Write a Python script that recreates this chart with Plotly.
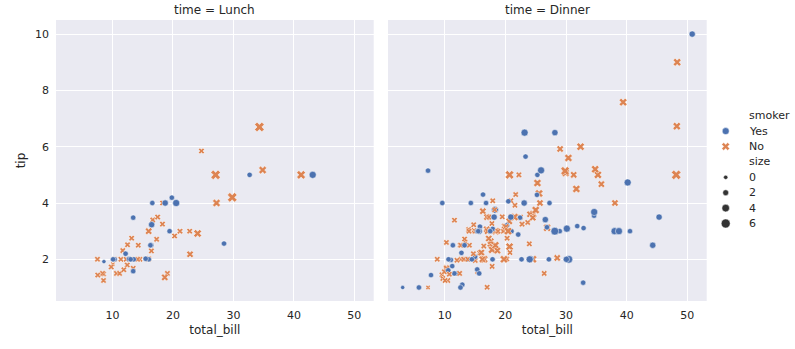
import math
import plotly.graph_objects as go

# ---------------- data (tips: total_bill, tip, smoker, size) ----------------
lunch_bill = [27.2, 22.76, 17.29, 19.44, 16.66, 10.07, 32.68, 15.98, 34.83, 13.03, 18.28, 24.71, 21.16,
              10.65, 12.43, 24.08, 11.69, 13.42, 14.26, 15.95, 12.48, 29.8, 8.52, 14.52, 11.38, 22.82,
              19.08, 20.27, 11.17, 12.26, 18.26, 8.51, 10.33, 14.15, 16.0, 13.16, 17.47, 34.3, 41.19,
              27.05, 16.43, 8.35, 18.64, 11.87, 9.78, 7.51, 19.81, 28.44, 15.48, 16.58, 7.56, 10.34,
              43.11, 13.0, 13.51, 18.71, 12.74, 13.0, 16.4, 20.53, 16.47, 12.16, 13.42, 8.58, 15.98,
              13.42, 16.27, 10.09]
lunch_tip = [4.0, 3.0, 2.71, 3.0, 3.4, 1.83, 5.0, 2.03, 5.17, 2.0, 4.0, 5.85, 3.0,
             1.5, 1.8, 2.92, 2.31, 1.68, 2.5, 2.0, 2.52, 4.2, 1.48, 2.0, 2.0, 2.18,
             1.5, 2.83, 1.5, 2.0, 3.25, 1.25, 2.0, 2.0, 2.0, 2.75, 3.5, 6.7, 5.0,
             5.0, 2.3, 1.5, 1.36, 1.63, 1.73, 2.0, 4.19, 2.56, 2.02, 4.0, 1.44, 2.0,
             5.0, 2.0, 2.0, 4.0, 2.01, 2.0, 2.5, 4.0, 3.23, 2.2, 3.48, 1.92, 3.0,
             1.58, 2.5, 2.0]
lunch_smoker = ["No", "No", "No", "Yes", "No", "No", "Yes", "No", "No", "No", "No", "No", "No",
                "No", "No", "No", "No", "No", "No", "No", "No", "No", "No", "No", "No", "No",
                "No", "No", "No", "No", "No", "No", "No", "No", "Yes", "No", "No", "No", "No",
                "No", "No", "No", "No", "No", "No", "No", "Yes", "Yes", "Yes", "Yes", "No", "Yes",
                "Yes", "Yes", "Yes", "Yes", "Yes", "Yes", "Yes", "Yes", "Yes", "Yes", "Yes", "Yes", "No",
                "Yes", "Yes", "Yes"]
lunch_size = [4, 2, 2, 2, 2, 1, 2, 2, 4, 2, 2, 2, 2,
              2, 2, 4, 2, 2, 2, 2, 2, 6, 2, 2, 2, 3,
              2, 2, 2, 2, 2, 2, 2, 2, 2, 2, 2, 6, 5,
              6, 2, 2, 3, 2, 2, 2, 2, 2, 2, 2, 2, 2,
              4, 2, 2, 3, 2, 2, 2, 4, 3, 2, 2, 1, 3,
              2, 2, 2]

dinner_bill = [16.99, 10.34, 21.01, 23.68, 24.59, 25.29, 8.77, 26.88, 15.04, 14.78, 10.27, 35.26, 15.42,
               18.43, 14.83, 21.58, 10.33, 16.29, 16.97, 20.65, 17.92, 20.29, 15.77, 39.42, 19.82, 17.81,
               13.37, 12.69, 21.7, 19.65, 9.55, 18.35, 15.06, 20.69, 17.78, 24.06, 16.31, 16.93, 18.69,
               31.27, 16.04, 17.46, 13.94, 9.68, 30.4, 18.29, 22.23, 32.4, 28.55, 18.04, 12.54, 10.29,
               34.81, 9.94, 25.56, 19.49, 38.01, 26.41, 11.24, 48.27, 20.29, 13.81, 11.02, 18.29, 17.59,
               20.08, 16.45, 3.07, 20.23, 15.01, 12.02, 17.07, 26.86, 25.28, 14.73, 10.51, 17.92,
               28.97, 22.49, 5.75, 16.32, 22.75, 40.17, 27.28, 12.03, 21.01, 12.46, 11.35, 15.38, 44.3,
               22.42, 20.92, 15.36, 20.49, 25.21, 18.24, 14.31, 14.0, 7.25, 38.07, 23.95, 25.71, 17.31,
               29.93, 14.07, 13.13, 17.26, 24.55, 19.77, 29.85, 48.17, 25.0, 13.39, 16.49, 21.5, 12.66,
               16.21, 13.81, 17.51, 24.52, 20.76, 31.71, 10.59, 10.63, 50.81, 15.81, 7.25, 31.85, 16.82,
               32.9, 17.89, 14.48, 9.6, 34.63, 34.65, 23.33, 45.35, 23.17, 40.55, 20.69, 20.9, 30.46,
               18.15, 23.1, 15.69, 26.59, 38.73, 24.27, 12.76, 30.06, 25.89, 48.33, 13.27, 28.17, 12.9,
               28.15, 11.59, 7.74, 30.14, 20.45, 13.28, 22.12, 24.01, 15.69, 11.61, 10.77, 15.53, 10.07,
               12.6, 32.83, 35.83, 29.03, 27.18, 22.67, 17.82, 18.78]
dinner_tip = [1.01, 1.66, 3.5, 3.31, 3.61, 4.71, 2.0, 3.12, 1.96, 3.23, 1.71, 5.0, 1.57,
              3.0, 3.02, 3.92, 1.67, 3.71, 3.5, 3.35, 4.08, 2.75, 2.23, 7.58, 3.18, 2.34,
              2.0, 2.0, 4.3, 3.0, 1.45, 2.5, 3.0, 2.45, 3.27, 3.6, 2.0, 3.07, 2.31,
              5.0, 2.24, 2.54, 3.06, 1.32, 5.6, 3.0, 5.0, 6.0, 2.05, 3.0, 2.5, 2.6,
              5.2, 1.56, 4.34, 3.51, 3.0, 1.5, 1.76, 6.73, 3.21, 2.0, 1.98, 3.76, 2.64,
              3.15, 2.47, 1.0, 2.01, 2.09, 1.97, 3.0, 3.14, 5.0, 2.2, 1.25, 3.08,
              3.0, 3.5, 1.0, 4.3, 3.25, 4.73, 4.0, 1.5, 3.0, 1.5, 2.5, 3.0, 2.5,
              3.48, 4.08, 1.64, 4.06, 4.29, 3.76, 4.0, 3.0, 1.0, 4.0, 2.55, 4.0, 3.5,
              5.07, 2.5, 2.0, 2.74, 2.0, 2.0, 5.14, 5.0, 3.75, 2.61, 2.0, 3.5, 2.5,
              2.0, 2.0, 3.0, 3.48, 2.24, 4.5, 1.61, 2.0, 10.0, 3.16, 5.15, 3.18, 4.0,
              3.11, 2.0, 2.0, 4.0, 3.55, 3.68, 5.65, 3.5, 6.5, 3.0, 5.0, 3.5, 2.0,
              3.5, 4.0, 1.5, 3.41, 3.0, 2.03, 2.23, 2.0, 5.16, 9.0, 2.5, 6.5, 1.1,
              3.0, 1.5, 1.44, 3.09, 3.0, 2.72, 2.88, 2.0, 3.0, 3.39, 1.47, 3.0, 1.25,
              1.0, 1.17, 4.67, 5.92, 2.0, 2.0, 1.75, 3.0]
dinner_smoker = ["No", "No", "No", "No", "No", "No", "No", "No", "No", "No", "No", "No", "No",
                 "No", "No", "No", "No", "No", "No", "No", "No", "No", "No", "No", "No", "No",
                 "No", "No", "No", "No", "No", "No", "No", "No", "No", "No", "No", "No", "No",
                 "No", "No", "No", "No", "No", "No", "No", "No", "No", "No", "No", "No", "No",
                 "No", "No", "No", "No", "Yes", "No", "Yes", "No", "Yes", "Yes", "Yes", "Yes", "No",
                 "No", "No", "Yes", "No", "Yes", "No", "No", "Yes", "Yes", "No", "No", "Yes",
                 "Yes", "No", "Yes", "Yes", "No", "Yes", "Yes", "Yes", "Yes", "No", "Yes", "Yes", "Yes",
                 "Yes", "No", "Yes", "Yes", "Yes", "No", "Yes", "No", "No", "No", "No", "No", "No",
                 "No", "No", "No", "No", "No", "No", "No", "No", "No", "No", "No", "No", "No",
                 "No", "No", "Yes", "No", "No", "No", "Yes", "Yes", "Yes", "Yes", "Yes", "Yes", "Yes",
                 "Yes", "Yes", "Yes", "Yes", "Yes", "Yes", "Yes", "Yes", "Yes", "Yes", "No", "Yes", "Yes",
                 "Yes", "Yes", "Yes", "Yes", "Yes", "Yes", "Yes", "Yes", "Yes", "No", "Yes", "Yes", "Yes",
                 "Yes", "Yes", "Yes", "Yes", "No", "No", "Yes", "Yes", "Yes", "No", "No", "Yes", "No",
                 "Yes", "Yes", "No", "No", "Yes", "Yes", "No", "No"]
dinner_size = [2, 3, 3, 2, 4, 4, 2, 4, 2, 2, 2, 4, 2,
               4, 2, 2, 3, 3, 3, 3, 2, 2, 2, 4, 2, 4,
               2, 2, 2, 2, 2, 4, 2, 4, 2, 3, 3, 3, 3,
               3, 3, 2, 2, 2, 4, 2, 2, 4, 3, 2, 2, 2,
               4, 2, 4, 2, 4, 2, 2, 4, 2, 2, 2, 4, 3,
               3, 2, 1, 2, 2, 2, 3, 2, 2, 2, 2, 2,
               2, 2, 2, 2, 2, 4, 2, 2, 2, 2, 2, 2, 3,
               2, 2, 2, 2, 2, 2, 2, 2, 1, 3, 2, 3, 2,
               4, 2, 2, 3, 4, 4, 5, 6, 4, 2, 4, 4, 2,
               3, 2, 2, 3, 2, 4, 2, 2, 3, 2, 2, 2, 2,
               2, 2, 2, 2, 2, 4, 2, 3, 4, 2, 5, 3, 5,
               3, 3, 2, 3, 4, 2, 2, 3, 4, 4, 2, 3, 2,
               5, 2, 2, 4, 4, 2, 2, 4, 3, 2, 2, 2, 2,
               2, 2, 3, 3, 2, 2, 2, 2]

panel_titles = ["time = Lunch", "time = Dinner"]
smoker_levels = ["Yes", "No"]
size_legend_levels = [0, 2, 4, 6]
x_ticks = [10, 20, 30, 40, 50]
y_ticks = [2, 4, 6, 8, 10]

# ---------------- styling ----------------
FONT = "DejaVu Sans"
TXT = "#262626"
BG = "#EAEAF2"
smoker_colors = {"Yes": "#4C72B0", "No": "#DD8452"}
smoker_symbols = {"Yes": "circle", "No": "x"}


def diam(s):
    # seaborn default size norm: size 1 -> 18 pt^2, size 6 -> 72 pt^2 (area)
    return math.sqrt(max(18 + 54 * (s - 1) / 5, 0.5))


W, H = 795, 349
L, R, T, B = 56, 0, 20, 48
PW = W - L - R
PH = H - T - B


def xd(px):
    return (px - L) / PW


dom1 = [0, xd(373.7)]
dom2 = [xd(388), xd(706.7)]
dom3 = [xd(712), 1]
XR = [0.65, 53.2]
YR = [0.52, 10.5]

fig = go.Figure()

panels = [
    (lunch_bill, lunch_tip, lunch_smoker, lunch_size, "x", "y"),
    (dinner_bill, dinner_tip, dinner_smoker, dinner_size, "x2", "y2"),
]
for bill, tip, smk, sz, xa, ya in panels:
    fig.add_trace(go.Scatter(
        x=bill, y=tip, mode="markers", xaxis=xa, yaxis=ya,
        showlegend=False, hoverinfo="skip",
        marker=dict(
            color=[smoker_colors[s] for s in smk],
            symbol=[smoker_symbols[s] for s in smk],
            size=[diam(v) for v in sz],
            opacity=1,
            line=dict(color="white", width=0.5),
        ),
    ))

# ---------------- legend (drawn on a hidden helper axis) ----------------
leg_labels = ["smoker"] + smoker_levels + ["size"] + [str(v) for v in size_legend_levels]
leg_y0, leg_dy = 115.7, 15.4
leg_rows = [leg_y0 + i * leg_dy for i in range(len(leg_labels))]
mk_x, tx_x = 725.7, 747

leg_marker_y, leg_colors, leg_symbols, leg_sizes = [], [], [], []
for i, s in enumerate(smoker_levels):
    leg_marker_y.append(leg_rows[1 + i])
    leg_colors.append(smoker_colors[s])
    leg_symbols.append(smoker_symbols[s])
    leg_sizes.append(7)
for i, v in enumerate(size_legend_levels):
    leg_marker_y.append(leg_rows[4 + i])
    leg_colors.append("#333333")
    leg_symbols.append("circle")
    leg_sizes.append(max(diam(v), 3.8) + 0.5)

fig.add_trace(go.Scatter(
    x=[mk_x] * len(leg_marker_y), y=leg_marker_y, mode="markers",
    xaxis="x3", yaxis="y3", showlegend=False, hoverinfo="skip",
    marker=dict(color=leg_colors, symbol=leg_symbols, size=leg_sizes, opacity=1,
                line=dict(color="white", width=0.5)),
))

annotations = []
for lab, yy in zip(leg_labels, leg_rows):
    annotations.append(dict(
        x=tx_x, y=yy, xref="x3", yref="y3", text=lab, showarrow=False,
        xanchor="left", yanchor="middle", font=dict(family=FONT, size=11, color=TXT),
    ))

for title, dom in zip(panel_titles, [dom1, dom2]):
    annotations.append(dict(
        x=(dom[0] + dom[1]) / 2, y=1 + 10.5 / PH, xref="paper", yref="paper",
        text=title, showarrow=False, xanchor="center", yanchor="middle",
        font=dict(family=FONT, size=12, color=TXT),
    ))

shapes = []
for xa in ["x", "x2"]:
    ya = "y" if xa == "x" else "y2"
    shapes.append(dict(type="rect", xref=f"{xa} domain", yref=f"{ya} domain",
                       x0=0, x1=1, y0=0, y1=1, fillcolor=BG, line=dict(width=0),
                       layer="below"))

axis_common = dict(
    showgrid=True, gridcolor="white", gridwidth=1, zeroline=False, showline=False,
    ticks="", tickfont=dict(family=FONT, size=11, color=TXT),
)

fig.update_layout(
    width=W, height=H, margin=dict(l=L, r=R, t=T, b=B, pad=0),
    paper_bgcolor="white", plot_bgcolor="rgba(0,0,0,0)",
    font=dict(family=FONT, color=TXT),
    xaxis=dict(domain=dom1, range=XR, tickvals=x_ticks, anchor="y",
               title=dict(text="total_bill", font=dict(family=FONT, size=12, color=TXT), standoff=4),
               ticklabelstandoff=6, **axis_common),
    yaxis=dict(domain=[0, 1], range=YR, tickvals=y_ticks, anchor="x",
               title=dict(text="tip", font=dict(family=FONT, size=12, color=TXT), standoff=6),
               ticklabelstandoff=6, **axis_common),
    xaxis2=dict(domain=dom2, range=XR, tickvals=x_ticks, anchor="y2",
                title=dict(text="total_bill", font=dict(family=FONT, size=12, color=TXT), standoff=4),
                ticklabelstandoff=6, **axis_common),
    yaxis2=dict(domain=[0, 1], range=YR, tickvals=y_ticks, anchor="x2",
                showticklabels=False, **axis_common),
    xaxis3=dict(domain=dom3, range=[712, 795], visible=False, anchor="y3"),
    yaxis3=dict(domain=[0, 1], range=[H - B, T], visible=False, anchor="x3"),
    annotations=annotations,
    shapes=shapes,
)

fig.write_html("out.html")
